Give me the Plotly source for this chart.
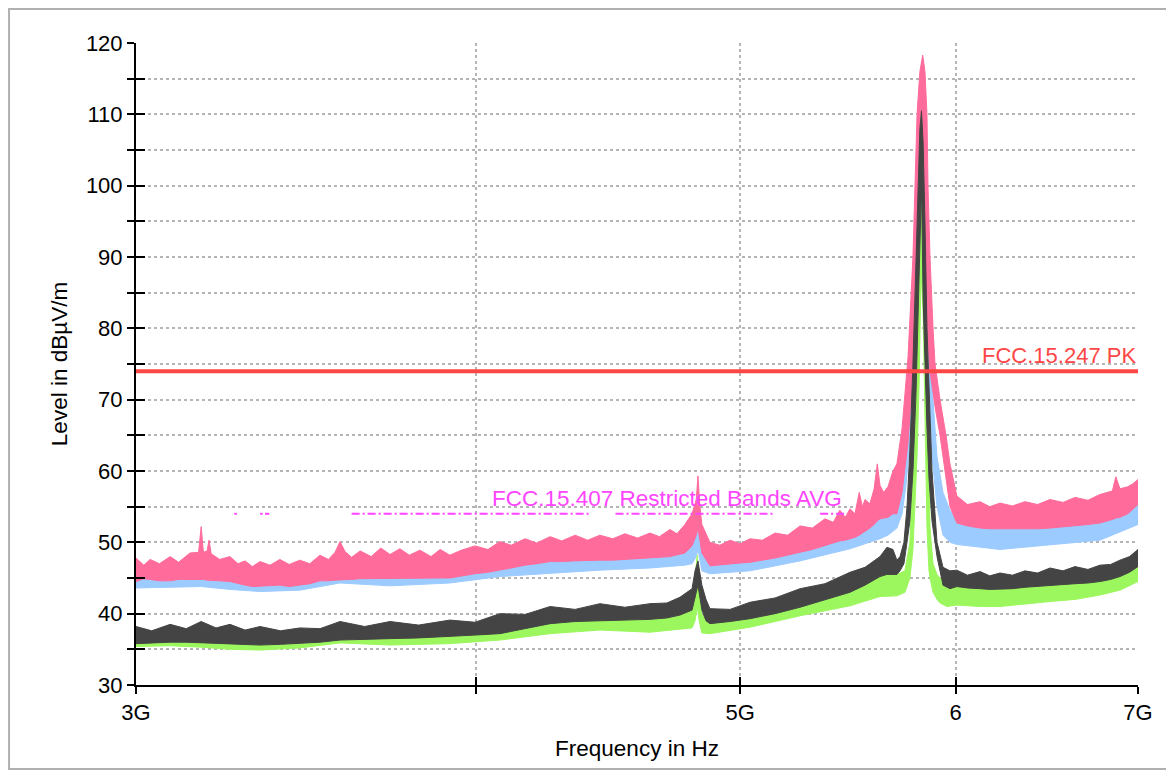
import math
import plotly.graph_objects as go

# ---------------- data (frequencies in GHz, levels in dBuV/m) ----------------
PINK_F = [3.000, 3.020, 3.036, 3.060, 3.088, 3.110, 3.140, 3.163, 3.170, 3.176,
          3.186, 3.191, 3.197, 3.220, 3.248, 3.270, 3.290, 3.310, 3.332, 3.360,
          3.388, 3.415, 3.446, 3.475, 3.505, 3.530, 3.550, 3.565, 3.580, 3.600,
          3.626, 3.660, 3.690, 3.719, 3.750, 3.780, 3.814, 3.850, 3.880, 3.912,
          3.950, 3.996, 4.040, 4.081, 4.120, 4.169, 4.210, 4.258, 4.300, 4.349,
          4.395, 4.441, 4.490, 4.536, 4.585, 4.633, 4.670, 4.712, 4.740, 4.772,
          4.801, 4.818, 4.825, 4.833, 4.841, 4.874, 4.915, 4.958, 5.000, 5.042,
          5.095, 5.150, 5.205, 5.260, 5.315, 5.372, 5.410, 5.440, 5.465, 5.487,
          5.510, 5.530, 5.545, 5.557, 5.580, 5.600, 5.615, 5.628, 5.645, 5.666,
          5.690, 5.709, 5.734, 5.748, 5.763, 5.787, 5.797, 5.807, 5.821, 5.835,
          5.846, 5.856, 5.861, 5.871, 5.886, 5.896, 5.921, 5.951, 5.971, 6.006,
          6.060, 6.125, 6.175, 6.229, 6.295, 6.362, 6.430, 6.498, 6.570, 6.637,
          6.710, 6.778, 6.850, 6.870, 6.894, 6.940, 6.970, 7.000]
PINK_HI = [47.8, 46.8, 47.6, 47.0, 48.0, 47.2, 48.5, 48.6, 52.2, 48.6,
           48.8, 50.3, 48.4, 47.6, 48.0, 47.0, 47.4, 46.6, 47.3, 46.8,
           47.6, 46.9, 47.5, 47.0, 48.2, 47.6, 48.6, 50.1, 48.7, 47.9,
           48.8, 48.0, 49.2, 48.3, 49.1, 48.2, 48.9, 48.0, 49.0, 48.2,
           48.9, 49.5, 49.0, 50.1, 49.6, 50.5, 49.9, 50.8, 50.2, 51.0,
           50.3, 51.0, 50.5, 51.2, 50.6, 51.3, 50.8, 51.8, 51.2, 52.5,
           54.0, 56.0, 59.3, 55.0, 52.5, 50.0, 49.6, 50.3, 49.8, 50.5,
           50.3, 51.3, 51.0, 52.3, 52.0, 53.3, 52.8, 54.5, 53.5, 54.7,
           54.0, 57.0, 55.0, 56.0, 55.4, 57.5, 61.0, 58.0, 57.0, 57.8,
           60.0, 61.0, 66.0, 70.4, 76.0, 90.0, 100.0, 110.0, 116.0, 118.3,
           116.0, 110.0, 100.0, 90.0, 80.0, 75.0, 70.0, 65.0, 61.0, 56.5,
           55.3, 55.7, 55.0, 55.5, 55.1, 55.7, 55.3, 56.0, 55.6, 56.3,
           55.9, 56.7, 57.2, 59.2, 57.5, 57.8, 58.2, 58.8]
PINK_LO = [44.5, 44.9, 44.8, 44.6, 44.6, 44.8, 44.9, 44.8, 44.8, 44.8,
           44.7, 44.7, 44.6, 44.6, 44.5, 44.2, 44.0, 43.8, 43.8, 43.9,
           44.0, 43.8, 44.0, 44.2, 44.6, 44.6, 44.7, 44.7, 44.8, 44.8,
           44.9, 44.9, 45.0, 45.0, 45.0, 45.0, 45.0, 45.0, 45.0, 45.0,
           45.3, 45.6, 45.8, 46.1, 46.4, 46.8, 47.0, 47.3, 47.3, 47.4,
           47.4, 47.5, 47.5, 47.6, 47.7, 47.8, 47.9, 48.0, 48.2, 48.5,
           49.5, 51.0, 52.0, 50.5, 48.5, 46.7, 46.8, 47.0, 47.1, 47.2,
           47.5, 47.8, 48.2, 48.6, 49.0, 49.5, 49.9, 50.2, 50.3, 50.5,
           50.7, 51.0, 51.2, 51.5, 52.0, 52.5, 53.0, 53.3, 53.4, 53.5,
           54.0, 54.0, 57.0, 60.0, 64.0, 74.0, 80.7, 84.4, 95.0, 108.0,
           86.7, 80.0, 77.5, 74.0, 71.0, 69.0, 65.0, 59.0, 55.0, 52.7,
           52.3, 52.0, 51.9, 51.8, 51.8, 51.9, 51.9, 52.0, 52.1, 52.3,
           52.5, 52.7, 53.2, 53.4, 53.5, 54.0, 54.6, 55.3]

BLUE_F = [3.000, 3.088, 3.170, 3.248, 3.332, 3.446, 3.565, 3.719, 3.912, 4.081,
          4.258, 4.441, 4.633, 4.772, 4.801, 4.818, 4.825, 4.833, 4.841, 4.874,
          5.042, 5.260, 5.487, 5.628, 5.666, 5.709, 5.734, 5.753, 5.772, 5.792,
          5.807, 5.821, 5.829, 5.837, 5.846, 5.856, 5.866, 5.881, 5.906, 5.936,
          5.971, 6.006, 6.229, 6.498, 6.778, 7.000]
BLUE_HI = [46.5, 46.5, 47.0, 46.5, 46.0, 46.0, 47.0, 47.0, 47.0, 48.0,
           48.8, 49.2, 49.5, 50.5, 51.5, 53.0, 54.7, 52.0, 49.5, 48.5,
           49.0, 50.5, 52.5, 55.0, 56.0, 58.0, 62.0, 68.0, 78.0, 92.0,
           104.0, 111.0, 112.7, 110.0, 102.0, 92.0, 82.0, 72.0, 62.0, 57.0,
           54.5, 53.0, 52.5, 53.0, 53.5, 55.5]
BLUE_LO = [43.6, 43.7, 43.8, 43.4, 43.1, 43.3, 44.3, 43.9, 44.3, 45.2,
           45.7, 46.1, 46.4, 46.8, 47.0, 48.0, 49.0, 47.5, 46.0, 45.6,
           46.0, 47.4, 49.1, 50.5, 51.0, 52.0, 54.0, 58.0, 64.0, 78.0,
           90.0, 100.0, 104.0, 100.0, 92.0, 82.0, 72.0, 62.0, 55.0, 51.0,
           50.0, 49.7, 49.0, 49.7, 50.3, 52.5]

DARK_F = [3.000, 3.040, 3.088, 3.130, 3.170, 3.210, 3.248, 3.290, 3.332, 3.390,
          3.446, 3.505, 3.565, 3.640, 3.719, 3.810, 3.912, 3.996, 4.081, 4.169,
          4.258, 4.349, 4.441, 4.536, 4.633, 4.700, 4.752, 4.801, 4.813, 4.825,
          4.841, 4.858, 4.874, 4.958, 5.042, 5.150, 5.260, 5.372, 5.487, 5.557,
          5.628, 5.661, 5.690, 5.709, 5.724, 5.743, 5.758, 5.772, 5.787, 5.802,
          5.812, 5.821, 5.829, 5.837, 5.846, 5.856, 5.866, 5.881, 5.906, 5.936,
          5.971, 6.006, 6.060, 6.125, 6.175, 6.229, 6.295, 6.362, 6.430, 6.498,
          6.570, 6.637, 6.710, 6.778, 6.840, 6.894, 6.950, 7.000]
DARK_HI = [38.2, 37.6, 38.5, 37.9, 38.9, 38.0, 38.5, 37.7, 38.2, 37.6,
           38.0, 37.9, 38.9, 38.2, 38.9, 38.4, 39.1, 38.8, 40.0, 39.9,
           41.0, 40.6, 41.4, 40.9, 41.4, 41.5, 42.3, 43.5, 46.0, 47.4,
           44.0, 42.0, 40.7, 40.6, 41.6, 42.2, 43.5, 44.2, 45.8, 46.5,
           48.0, 49.3, 49.0, 47.5, 48.0, 50.0, 55.0, 63.0, 75.0, 90.0,
           100.0, 108.0, 110.5, 106.0, 95.0, 80.0, 72.0, 60.0, 50.0, 46.5,
           46.0, 46.1, 45.4, 45.9, 45.3, 45.7, 45.4, 46.0, 45.7, 46.4,
           46.0, 46.6, 46.2, 46.8, 46.9, 47.5, 48.0, 49.0]
DARK_LO = [35.8, 35.9, 36.0, 36.0, 36.0, 35.9, 35.8, 35.7, 35.6, 35.7,
           35.8, 36.0, 36.3, 36.4, 36.5, 36.6, 36.8, 37.0, 37.2, 37.9,
           38.6, 38.9, 39.1, 39.1, 39.2, 39.4, 39.8, 40.5, 42.0, 44.0,
           40.5, 39.0, 38.6, 38.9, 39.3, 40.0, 40.9, 41.9, 43.0, 44.0,
           45.2, 45.5, 45.5, 45.5, 46.0, 47.0, 50.0, 53.0, 60.0, 71.0,
           81.0, 92.0, 100.0, 84.0, 74.0, 66.0, 59.0, 53.0, 48.0, 44.0,
           43.5, 43.8, 43.6, 43.5, 43.4, 43.4, 43.5, 43.7, 43.8, 44.0,
           44.1, 44.2, 44.3, 44.5, 44.8, 45.2, 45.8, 46.6]

GREEN_F = [3.000, 3.088, 3.170, 3.248, 3.332, 3.446, 3.565, 3.719, 3.912, 4.081,
           4.258, 4.441, 4.633, 4.752, 4.801, 4.813, 4.822, 4.830, 4.841, 4.874,
           5.042, 5.260, 5.487, 5.628, 5.681, 5.709, 5.748, 5.772, 5.787, 5.807,
           5.817, 5.827, 5.837, 5.846, 5.856, 5.866, 5.871, 5.886, 5.906, 5.921,
           5.956, 6.006, 6.125, 6.229, 6.362, 6.498, 6.637, 6.778, 6.894, 7.000]
GREEN_HI = [37.0, 37.2, 37.3, 37.0, 36.8, 36.8, 37.3, 37.4, 37.6, 38.3,
            39.5, 40.0, 40.0, 40.5, 41.5, 45.0, 48.2, 44.0, 39.8, 39.5,
            40.3, 42.0, 44.0, 45.8, 46.0, 45.5, 46.0, 50.0, 60.0, 75.0,
            90.0, 105.0, 95.0, 85.0, 75.0, 62.0, 52.0, 47.0, 45.5, 45.0,
            44.5, 44.5, 44.2, 44.0, 44.3, 44.6, 44.9, 45.2, 45.8, 46.8]
GREEN_LO = [35.4, 35.5, 35.3, 35.0, 34.9, 35.2, 35.9, 35.6, 35.8, 36.3,
            37.2, 37.7, 37.4, 37.8, 38.0, 39.0, 41.0, 39.0, 37.3, 37.2,
            38.1, 39.7, 41.1, 42.4, 42.5, 42.5, 43.0, 45.0, 49.0, 62.0,
            72.0, 88.0, 82.0, 68.0, 52.0, 46.0, 45.0, 43.0, 42.0, 41.5,
            41.0, 41.2, 41.0, 41.0, 41.3, 41.7, 42.0, 42.6, 43.3, 44.5]

# limit lines
PK_LIMIT_F = [3.0, 7.0]
PK_LIMIT = [74.0, 74.0]
RB_START = [3.260, 3.332, 3.3458, 3.600, 4.500, 5.350]
RB_END = [3.267, 3.339, 3.358, 4.400, 5.150, 5.460]
RB_LEVEL = 54.0

X_TICKS = [3.0, 4.0, 5.0, 6.0, 7.0]
X_TICK_TEXT = ["3G", "", "5G", "6", "7G"]

PINK = "#ff6b9b"
BLUE = "#9ccbff"
DARK = "#444444"
GREEN = "#9cf75e"
RED = "#ff4646"
MAGENTA = "#ff44ff"
GRID = "#b5b5b5"
FONT = "Liberation Sans, Arial, Helvetica, sans-serif"

for f, hi, lo in [(PINK_F, PINK_HI, PINK_LO), (BLUE_F, BLUE_HI, BLUE_LO),
                  (DARK_F, DARK_HI, DARK_LO), (GREEN_F, GREEN_HI, GREEN_LO)]:
    assert len(f) == len(hi) == len(lo)


def band(f, hi, lo, color):
    xs = [v * 1e9 for v in f] + [v * 1e9 for v in reversed(f)]
    ys = list(hi) + list(reversed(lo))
    return go.Scatter(x=xs, y=ys, mode="lines", fill="toself", fillcolor=color,
                      line=dict(color=color, width=1), hoverinfo="skip",
                      showlegend=False)


fig = go.Figure()
fig.add_trace(band(BLUE_F, BLUE_HI, BLUE_LO, BLUE))
fig.add_trace(band(PINK_F, PINK_HI, PINK_LO, PINK))
fig.add_trace(band(GREEN_F, GREEN_HI, GREEN_LO, GREEN))
fig.add_trace(band(DARK_F, DARK_HI, DARK_LO, DARK))

# restricted bands (AVG)
rx, ry = [], []
for s, e in zip(RB_START, RB_END):
    rx += [s * 1e9, e * 1e9, None]
    ry += [RB_LEVEL, RB_LEVEL, None]
fig.add_trace(go.Scatter(x=rx, y=ry, mode="lines",
                         line=dict(color=MAGENTA, width=2, dash="8px,3px,2px,3px"),
                         hoverinfo="skip", showlegend=False))

# peak limit
fig.add_trace(go.Scatter(x=[v * 1e9 for v in PK_LIMIT_F], y=PK_LIMIT, mode="lines",
                         line=dict(color=RED, width=4), hoverinfo="skip",
                         showlegend=False))

# invisible trace carrying the overlay axes (ticks that cross the axis lines)
fig.add_trace(go.Scatter(x=[3e9], y=[30], xaxis="x2", yaxis="y2", mode="markers",
                         marker=dict(opacity=0), hoverinfo="skip", showlegend=False))

xr = [math.log10(3e9), math.log10(7e9)]
grid = dict(showgrid=True, gridcolor=GRID, griddash="dot", gridwidth=1.5)

# page body has an 8px margin: figure is shrunk so the plot area lands at 136..1138 / 43..685
fig.update_layout(
    width=1166, height=766,
    margin=dict(l=128, r=36, t=35, b=89),
    paper_bgcolor="white", plot_bgcolor="white",
    font=dict(family=FONT, color="black", size=21),
    showlegend=False, hovermode=False,
    xaxis=dict(type="log", range=xr, tickvals=[v * 1e9 for v in X_TICKS],
               ticktext=X_TICK_TEXT, ticks="outside", ticklen=7, tickwidth=2,
               tickcolor="black", showline=True, linecolor="black", linewidth=2,
               zeroline=False, tickfont=dict(size=22),
               title=dict(text="Frequency in Hz", font=dict(size=22.5), standoff=16),
               **grid),
    xaxis2=dict(type="log", range=xr, overlaying="x", anchor="y2", side="bottom",
                tickvals=[v * 1e9 for v in X_TICKS], ticks="inside", ticklen=8,
                tickwidth=2, tickcolor="black", showticklabels=False,
                showgrid=False, zeroline=False, showline=False),
    yaxis=dict(range=[30, 120], tick0=0, dtick=10, ticks="outside", ticklen=7,
               tickwidth=2, tickcolor="black", showline=True, linecolor="black",
               linewidth=2, zeroline=False, tickfont=dict(size=22),
               minor=dict(dtick=5, ticks="outside", ticklen=7, tickwidth=2,
                          tickcolor="black", showgrid=True, gridcolor=GRID,
                          griddash="dot", gridwidth=1.5),
               title=dict(text="Level in dBµV/m", font=dict(size=22.5), standoff=12),
               **grid),
    yaxis2=dict(range=[30, 120], overlaying="y", anchor="x2", side="left",
                tick0=0, dtick=5, ticks="inside", ticklen=9, tickwidth=2,
                tickcolor="black", showticklabels=False, showgrid=False,
                zeroline=False, showline=False),
)

fig.add_annotation(x=math.log10(7e9), y=74, xref="x", yref="y", text="FCC.15.247 PK",
                   showarrow=False, xanchor="right", yanchor="bottom", yshift=1,
                   font=dict(color=RED, size=22, family=FONT))
fig.add_annotation(x=math.log10(4.047e9), y=RB_LEVEL, xref="x", yref="y",
                   text="FCC.15.407 Restricted Bands AVG", showarrow=False,
                   xanchor="left", yanchor="bottom", yshift=1,
                   font=dict(color=MAGENTA, size=22.5, family=FONT))

# outer frame of the picture
fig.add_shape(type="rect", xref="paper", yref="paper",
              x0=-0.1267, x1=1.0319, y0=-0.1308, y1=1.0530,
              line=dict(color="#b0b0b0", width=2), fillcolor="rgba(0,0,0,0)",
              layer="below")

fig.write_html("out.html")
